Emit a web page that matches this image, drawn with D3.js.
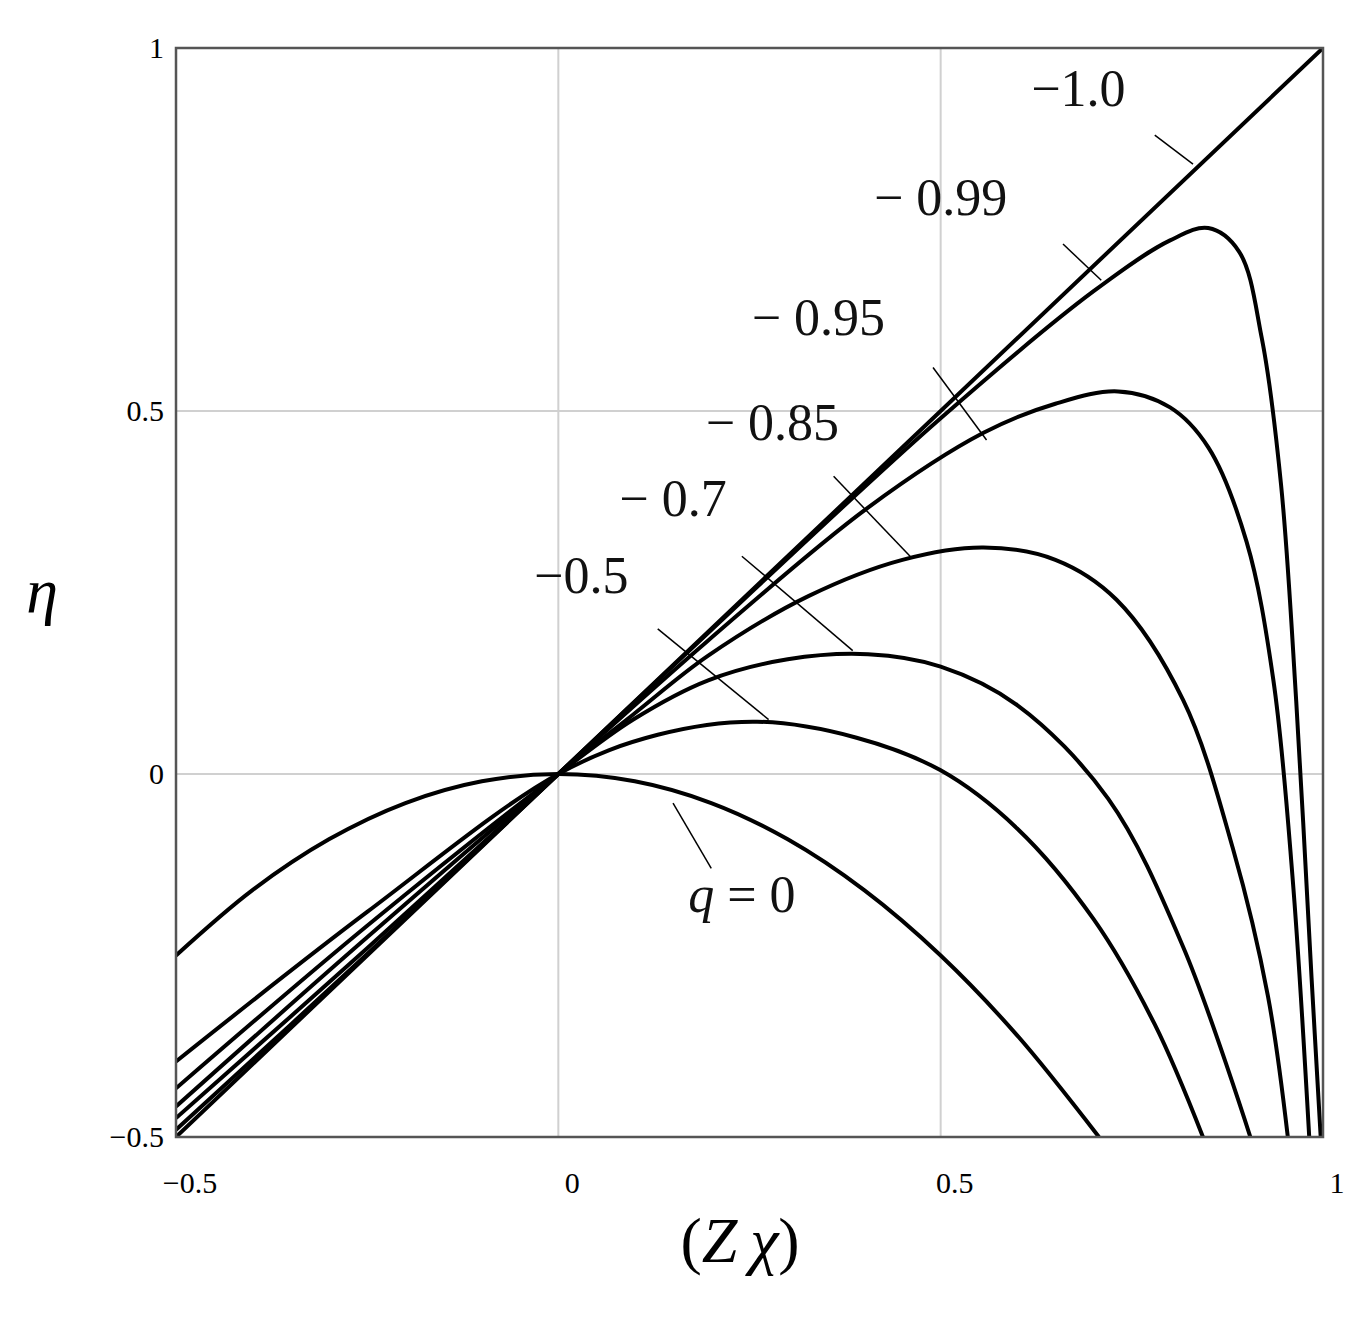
<!DOCTYPE html>
<html><head><meta charset="utf-8">
<script src="https://cdn.jsdelivr.net/npm/d3@7"></script>
<style>body{margin:0;background:#fff}text{font-family:"Liberation Serif","Times New Roman",serif}</style>
</head><body><div id="chart"></div>
<script>
// values
var qLabels = ["q = 0", "\u22120.5", "\u2212\u00a00.7", "\u2212\u00a00.85", "\u2212\u00a00.95", "\u2212\u00a00.99", "\u22121.0"];
var q0X = [-0.5, -0.4, -0.3, -0.2, -0.1, 0, 0.1, 0.2, 0.3, 0.4, 0.5, 0.6, 0.707];
var q0Y = [-0.25, -0.16, -0.09, -0.04, -0.01, 0, -0.01, -0.04, -0.09, -0.16, -0.25, -0.36, -0.5];
var q05X = [-0.5, -0.25, 0, 0.13, 0.26, 0.39, 0.5, 0.6, 0.7, 0.78, 0.843];
var q05Y = [-0.396, -0.19, 0, 0.054, 0.072, 0.05, 0.005, -0.075, -0.2, -0.345, -0.5];
var q07X = [-0.5, -0.25, 0, 0.098, 0.196, 0.3, 0.405, 0.5, 0.6, 0.719, 0.817, 0.905];
var q07Y = [-0.433, -0.209, 0, 0.075, 0.129, 0.158, 0.165, 0.148, 0.095, -0.034, -0.238, -0.5];
var q085X = [-0.5, -0.25, 0, 0.098, 0.196, 0.327, 0.45, 0.556, 0.65, 0.73, 0.817, 0.882, 0.928, 0.954];
var q085Y = [-0.458, -0.225, 0, 0.082, 0.163, 0.245, 0.295, 0.312, 0.295, 0.24, 0.102, -0.102, -0.306, -0.5];
var q095X = [-0.5, -0.25, 0, 0.196, 0.405, 0.556, 0.65, 0.732, 0.8, 0.85, 0.9, 0.935, 0.96, 0.982];
var q095Y = [-0.474, -0.24, 0, 0.184, 0.367, 0.47, 0.51, 0.527, 0.505, 0.45, 0.32, 0.13, -0.14, -0.5];
var q099X = [-0.5, -0.25, 0, 0.25, 0.5, 0.7, 0.8, 0.85, 0.89, 0.92, 0.945, 0.965, 0.985, 0.997];
var q099Y = [-0.49, -0.248, 0, 0.248, 0.49, 0.665, 0.735, 0.752, 0.72, 0.6, 0.4, 0.1, -0.28, -0.5];
var q1X = [-0.5, 0, 1];
var q1Y = [-0.5, 0, 1];
var xTicks = [-0.5, 0, 0.5, 1];
var yTicks = [-0.5, 0, 0.5, 1];

var series = [[q0X,q0Y],[q05X,q05Y],[q07X,q07Y],[q085X,q085Y],[q095X,q095Y],[q099X,q099Y],[q1X,q1Y]];

var svg = d3.select("#chart").append("svg").attr("width", 1362).attr("height", 1323);
var margin = {top: 48, left: 176, right: 39, bottom: 186};
var width = 1362 - margin.left - margin.right, height = 1323 - margin.top - margin.bottom;

var x = d3.scaleLinear().domain([-0.5, 1]).range([0, width]);
var y = d3.scaleLinear().domain([-0.5, 1]).range([height, 0]);

var g = svg.append("g").attr("transform", "translate(" + margin.left + "," + margin.top + ")");
g.append("clipPath").attr("id", "clip").append("rect").attr("width", width).attr("height", height);

// grid
g.selectAll(".gx").data([0, 0.5]).enter().append("line")
  .attr("x1", d => x(d)).attr("x2", d => x(d)).attr("y1", 0).attr("y2", height)
  .attr("stroke", "#d0d0d0").attr("stroke-width", 2);
g.selectAll(".gy").data([0, 0.5]).enter().append("line")
  .attr("y1", d => y(d)).attr("y2", d => y(d)).attr("x1", 0).attr("x2", width)
  .attr("stroke", "#d0d0d0").attr("stroke-width", 2);

var line = d3.line().curve(d3.curveCatmullRom.alpha(0.5));
g.append("g").attr("clip-path", "url(#clip)").selectAll("path").data(series).enter().append("path")
  .attr("d", s => line(s[0].map((v, i) => [x(v), y(s[1][i])])))
  .attr("fill", "none").attr("stroke", "#000").attr("stroke-width", 4);

g.append("rect").attr("width", width).attr("height", height)
  .attr("fill", "none").attr("stroke", "#555").attr("stroke-width", 2.5);

// tick labels
g.selectAll(".xt").data(xTicks).enter().append("text")
  .attr("x", d => x(d) + 14).attr("y", height + 56).attr("text-anchor", "middle")
  .attr("font-size", 30).text(d => d < 0 ? "\u2212" + Math.abs(d) : d);
g.selectAll(".yt").data(yTicks).enter().append("text")
  .attr("x", -12).attr("y", d => y(d) + 10).attr("text-anchor", "end")
  .attr("font-size", 30).text(d => d < 0 ? "\u2212" + Math.abs(d) : d);

// axis titles
svg.append("text").attr("x", 42).attr("y", 612).attr("text-anchor", "middle")
  .attr("font-size", 64).attr("font-style", "italic").text("\u03b7");
var xt = svg.append("text").attr("x", 740).attr("y", 1262).attr("text-anchor", "middle").attr("font-size", 64);
xt.append("tspan").text("(");
xt.append("tspan").attr("font-style", "italic").text("Z\u2009\u03c7");
xt.append("tspan").text(")");

// curve labels with leader lines (positions in data units)
var labelPos = [[0.24, -0.19], [0.03, 0.25], [0.15, 0.355], [0.28, 0.46], [0.34, 0.605], [0.50, 0.77], [0.68, 0.92]];
var leaderFrom = [[0.2, -0.13], [0.13, 0.2], [0.24, 0.30], [0.36, 0.41], [0.49, 0.56], [0.66, 0.73], [0.78, 0.88]];
var leaderTo = [[0.15, -0.04], [0.275, 0.075], [0.385, 0.17], [0.46, 0.30], [0.56, 0.46], [0.71, 0.68], [0.83, 0.84]];
g.selectAll(".ld").data(leaderFrom).enter().append("line")
  .attr("x1", d => x(d[0])).attr("y1", d => y(d[1]))
  .attr("x2", (d, i) => x(leaderTo[i][0])).attr("y2", (d, i) => y(leaderTo[i][1]))
  .attr("stroke", "#000").attr("stroke-width", 1.5);
g.selectAll(".lb").data(qLabels).enter().append("text")
  .attr("x", (d, i) => x(labelPos[i][0])).attr("y", (d, i) => y(labelPos[i][1]))
  .attr("text-anchor", "middle").attr("font-size", 52).attr("fill", "#111")
  .each(function(d, i) {
    var t = d3.select(this);
    if (i === 0) { t.append("tspan").attr("font-style", "italic").text("q"); t.append("tspan").text(" = 0"); }
    else t.text(d);
  });
</script></body></html>
